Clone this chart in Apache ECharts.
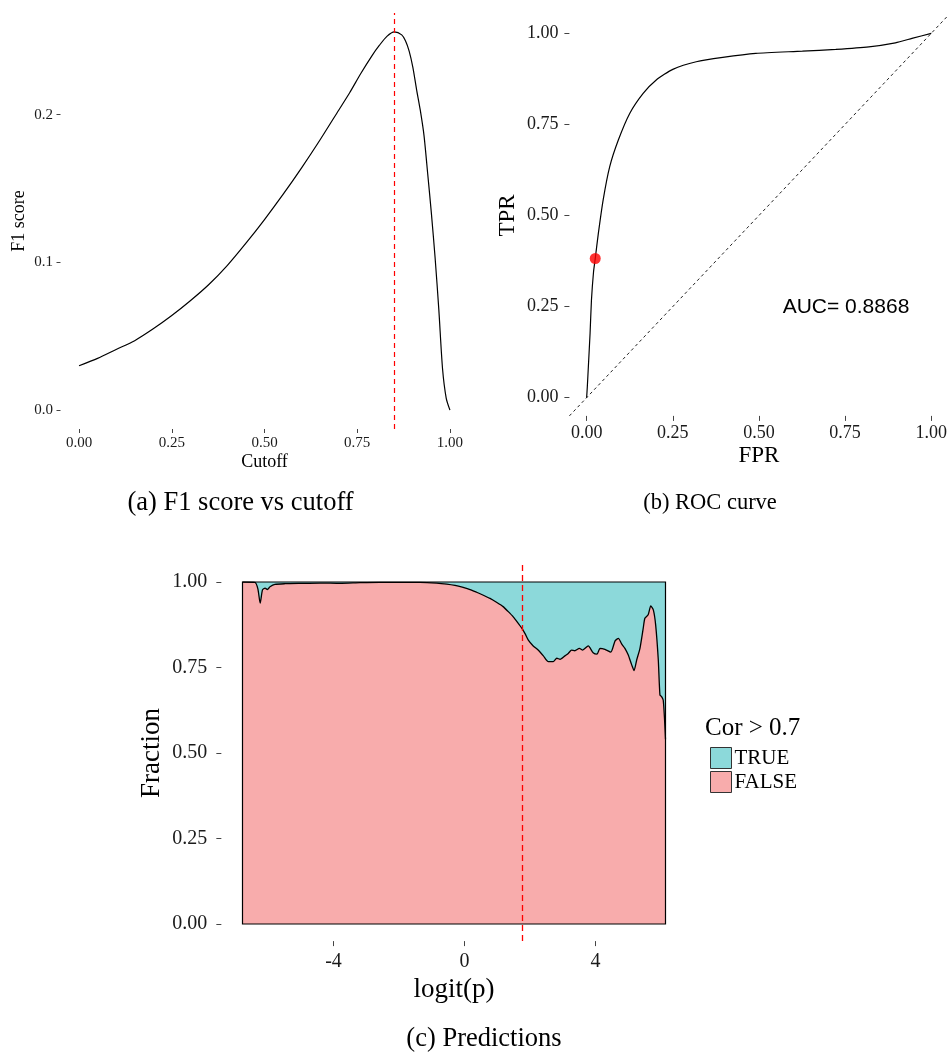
<!DOCTYPE html>
<html>
<head>
<meta charset="utf-8">
<title>F1 / ROC / Predictions</title>
<script src="https://cdn.jsdelivr.net/npm/echarts@6/dist/echarts.min.js"></script>
<style>
  html, body { margin: 0; padding: 0; background: #fff; }
  #chart { width: 950px; height: 1054px; }
</style>
</head>
<body>
<div id="chart"></div>
<script>
// (a) F1 score vs cutoff
const f1Cutoff = [0, 0.05, 0.10, 0.15, 0.20, 0.25, 0.30, 0.35, 0.40, 0.45, 0.50, 0.55, 0.60, 0.65, 0.70,
  0.73, 0.76, 0.79, 0.81, 0.83, 0.85, 0.87, 0.88, 0.89, 0.90, 0.91, 0.92, 0.93, 0.94, 0.95, 0.96, 0.97,
  0.98, 0.99, 1.00];
const f1Score = [0.030, 0.035, 0.041, 0.047, 0.055, 0.064, 0.074, 0.085, 0.098, 0.113, 0.129, 0.146, 0.164,
  0.183, 0.203, 0.215, 0.228, 0.240, 0.247, 0.253, 0.256, 0.254, 0.250, 0.243, 0.232, 0.217, 0.203, 0.186,
  0.160, 0.133, 0.103, 0.068, 0.028, 0.008, 0.000];
const bestCutoff = 0.852;
const f1Ticks = [0, 0.1, 0.2];
const cutoffTicks = [0, 0.25, 0.5, 0.75, 1];

// (b) ROC curve
const fpr = [0, 0.002, 0.005, 0.010, 0.014, 0.020, 0.025, 0.034, 0.048, 0.067, 0.092, 0.125, 0.164, 0.202,
  0.250, 0.318, 0.395, 0.491, 0.626, 0.723, 0.819, 0.896, 0.944, 1.0];
const tpr = [0, 0.030, 0.085, 0.177, 0.268, 0.345, 0.382, 0.451, 0.543, 0.634, 0.707, 0.780, 0.835, 0.872,
  0.901, 0.922, 0.934, 0.945, 0.951, 0.956, 0.963, 0.974, 0.986, 1.0];
const bestPoint = [0.025, 0.382];
const diagX = [-0.05, 1.05];
const rocTicks = [0, 0.25, 0.5, 0.75, 1];
const aucText = 'AUC= 0.8868';

// (c) Predictions: fraction of FALSE along logit(p); TRUE fills the rest up to 1
const logitP = [-6.78, -6.40, -6.31, -6.24, -6.17, -6.09, -6.02, -5.94, -5.79, -5.48, -5.02, -4.41, -3.80,
  -3.19, -2.58, -1.97, -1.36, -0.85, -0.54, -0.29, -0.04, 0.17, 0.37, 0.56, 0.78, 0.99, 1.18, 1.33, 1.49,
  1.62, 1.75, 1.85, 1.95, 2.10, 2.25, 2.41, 2.56, 2.71, 2.82, 2.92, 3.07, 3.17, 3.27, 3.37, 3.51, 3.61,
  3.78, 3.93, 4.05, 4.14, 4.29, 4.47, 4.60, 4.70, 4.80, 4.90, 5.00, 5.11, 5.18, 5.26, 5.36, 5.46, 5.51,
  5.61, 5.69, 5.77, 5.84, 5.92, 5.97, 6.02, 6.07, 6.11, 6.14];
const fracFalse = [1.0, 0.999, 0.980, 0.938, 0.977, 0.982, 0.978, 0.986, 0.993, 0.995, 0.996, 0.997, 0.996,
  0.998, 0.999, 0.999, 0.999, 0.997, 0.994, 0.990, 0.984, 0.978, 0.970, 0.962, 0.952, 0.940, 0.928, 0.914,
  0.898, 0.882, 0.865, 0.849, 0.830, 0.813, 0.801, 0.784, 0.767, 0.767, 0.777, 0.774, 0.784, 0.791, 0.801,
  0.799, 0.806, 0.801, 0.813, 0.793, 0.789, 0.806, 0.803, 0.795, 0.828, 0.835, 0.819, 0.806, 0.787, 0.757,
  0.741, 0.772, 0.806, 0.865, 0.894, 0.904, 0.930, 0.918, 0.874, 0.772, 0.670, 0.665, 0.655, 0.600, 0.540];
const fracTrueTop = [1, 1];
const logitRange = [-6.78, 6.14];
const logitThreshold = 1.77;
const logitTicks = [-4, 0, 4];
const fracTicks = [0, 0.25, 0.5, 0.75, 1];
const groups = ['TRUE', 'FALSE'];

const SERIF = '"Liberation Serif", "DejaVu Serif", serif';
const SANS = '"Liberation Sans", Arial, sans-serif';
const colTrue = '#8cd9da';
const colFalse = '#f8acac';

function valueAxis(o) {
  return {
    type: 'value',
    gridIndex: o.grid,
    min: o.min,
    max: o.max,
    name: o.name,
    nameLocation: 'middle',
    nameGap: o.nameGap,
    nameRotate: o.rotate || 0,
    nameTextStyle: { fontFamily: SERIF, fontSize: o.nameSize, color: '#000' },
    axisLine: { show: false, onZero: false },
    splitLine: { show: false },
    axisTick: { show: true, length: o.tickLen, customValues: o.ticks, lineStyle: { color: '#444', width: 1 } },
    axisLabel: {
      customValues: o.ticks,
      formatter: (v) => v.toFixed(o.digits),
      fontFamily: SERIF,
      fontSize: o.labelSize,
      color: '#1a1a1a',
      margin: o.margin,
    },
  };
}

const chart = echarts.init(document.getElementById('chart'));

const option = {
  animation: false,
  backgroundColor: '#fff',
  grid: [
    { left: 60.5, top: 13, width: 408, height: 416 },
    { left: 569.4, top: 15.1, width: 380.6, height: 400.8 },
    { left: 221.35, top: 564.9, width: 465.3, height: 376.2 },
    { left: 242.5, top: 582, width: 423, height: 342, show: true, z: 8, borderColor: '#000', borderWidth: 1.2, backgroundColor: 'transparent' },
  ],
  xAxis: [
    valueAxis({ grid: 0, min: -0.05, max: 1.05, ticks: cutoffTicks, digits: 2, name: 'Cutoff', nameGap: 24, nameSize: 18, labelSize: 15, margin: 7, tickLen: 4 }),
    valueAxis({ grid: 1, min: -0.05, max: 1.05, ticks: rocTicks, digits: 2, name: 'FPR', nameGap: 29, nameSize: 23, labelSize: 18, margin: 8, tickLen: 5 }),
    valueAxis({ grid: 2, min: -7.426, max: 6.786, ticks: logitTicks, digits: 0, name: 'logit(p)', nameGap: 35, nameSize: 27, labelSize: 20, margin: 11, tickLen: 5 }),
    { type: 'value', gridIndex: 3, min: logitRange[0], max: logitRange[1], show: false },
  ],
  yAxis: [
    valueAxis({ grid: 0, min: -0.0128, max: 0.2688, ticks: f1Ticks, digits: 1, name: 'F1 score', rotate: 90, nameGap: 32, nameSize: 18, labelSize: 15, margin: 7.5, tickLen: 4 }),
    valueAxis({ grid: 1, min: -0.05, max: 1.05, ticks: rocTicks, digits: 2, name: 'TPR', rotate: 90, nameGap: 50, nameSize: 23, labelSize: 18, margin: 11, tickLen: 5 }),
    valueAxis({ grid: 2, min: -0.05, max: 1.05, ticks: fracTicks, digits: 2, name: 'Fraction', rotate: 90, nameGap: 56, nameSize: 27, labelSize: 20, margin: 14, tickLen: 5 }),
    { type: 'value', gridIndex: 3, min: 0, max: 1, show: false },
  ],
  legend: {
    orient: 'vertical',
    left: 705,
    top: 742,
    itemWidth: 21,
    itemHeight: 21,
    itemGap: 2,
    icon: 'rect',
    textStyle: { fontFamily: SERIF, fontSize: 21, color: '#000', padding: [0, 0, 0, -2] },
    data: [
      { name: groups[0], itemStyle: { color: colTrue, borderColor: '#333', borderWidth: 1 } },
      { name: groups[1], itemStyle: { color: colFalse, borderColor: '#333', borderWidth: 1 } },
    ],
    selectedMode: false,
  },
  series: [
    {
      type: 'line',
      xAxisIndex: 0, yAxisIndex: 0,
      data: f1Cutoff.map((x, i) => [x, f1Score[i]]),
      smooth: 0.25,
      showSymbol: false,
      lineStyle: { color: '#000', width: 1.2 },
      markLine: {
        silent: true,
        symbol: 'none',
        label: { show: false },
        lineStyle: { color: '#ff0000', type: [5, 4], width: 1.2 },
        data: [{ xAxis: bestCutoff }],
      },
    },
    {
      type: 'line',
      xAxisIndex: 1, yAxisIndex: 1,
      data: diagX.map((v) => [v, v]),
      showSymbol: false,
      lineStyle: { color: '#222', width: 1, type: [3, 3] },
    },
    {
      type: 'line',
      xAxisIndex: 1, yAxisIndex: 1,
      data: fpr.map((x, i) => [x, tpr[i]]),
      smooth: 0.2,
      showSymbol: false,
      lineStyle: { color: '#000', width: 1.2 },
    },
    {
      type: 'scatter',
      xAxisIndex: 1, yAxisIndex: 1,
      data: [bestPoint],
      symbolSize: 11,
      itemStyle: { color: '#ff0000' },
      z: 5,
    },
    {
      name: groups[0],
      type: 'line',
      xAxisIndex: 3, yAxisIndex: 3,
      data: logitRange.map((x, i) => [x, fracTrueTop[i]]),
      showSymbol: false,
      lineStyle: { width: 0, color: colTrue },
      itemStyle: { color: colTrue },
      areaStyle: { color: colTrue, opacity: 1 },
    },
    {
      name: groups[1],
      type: 'line',
      xAxisIndex: 3, yAxisIndex: 3,
      data: logitP.map((x, i) => [x, fracFalse[i]]),
      smooth: 0.2,
      showSymbol: false,
      lineStyle: { color: '#000', width: 1.3 },
      itemStyle: { color: colFalse },
      areaStyle: { color: colFalse, opacity: 1 },
    },
    {
      type: 'line',
      xAxisIndex: 2, yAxisIndex: 2,
      data: [],
      z: 10,
      markLine: {
        silent: true,
        symbol: 'none',
        label: { show: false },
        lineStyle: { color: '#ff0000', type: [6, 4], width: 1.3 },
        data: [{ xAxis: logitThreshold }],
      },
    },
  ],
  graphic: [
    { type: 'text', x: 240.5, y: 503, style: { text: '(a) F1 score vs cutoff', font: '26.5px ' + SERIF, align: 'center', verticalAlign: 'middle', fill: '#000' } },
    { type: 'text', x: 710, y: 503, style: { text: '(b) ROC curve', font: '22.5px ' + SERIF, align: 'center', verticalAlign: 'middle', fill: '#000' } },
    { type: 'text', x: 484, y: 1039, style: { text: '(c) Predictions', font: '26.5px ' + SERIF, align: 'center', verticalAlign: 'middle', fill: '#000' } },
    { type: 'text', x: 846, y: 307, style: { text: aucText, font: '21px ' + SANS, align: 'center', verticalAlign: 'middle', fill: '#000' } },
    { type: 'text', x: 705, y: 728, style: { text: 'Cor > 0.7', font: '25px ' + SERIF, align: 'left', verticalAlign: 'middle', fill: '#000' } },
  ],
};

chart.setOption(option);
</script>
</body>
</html>
